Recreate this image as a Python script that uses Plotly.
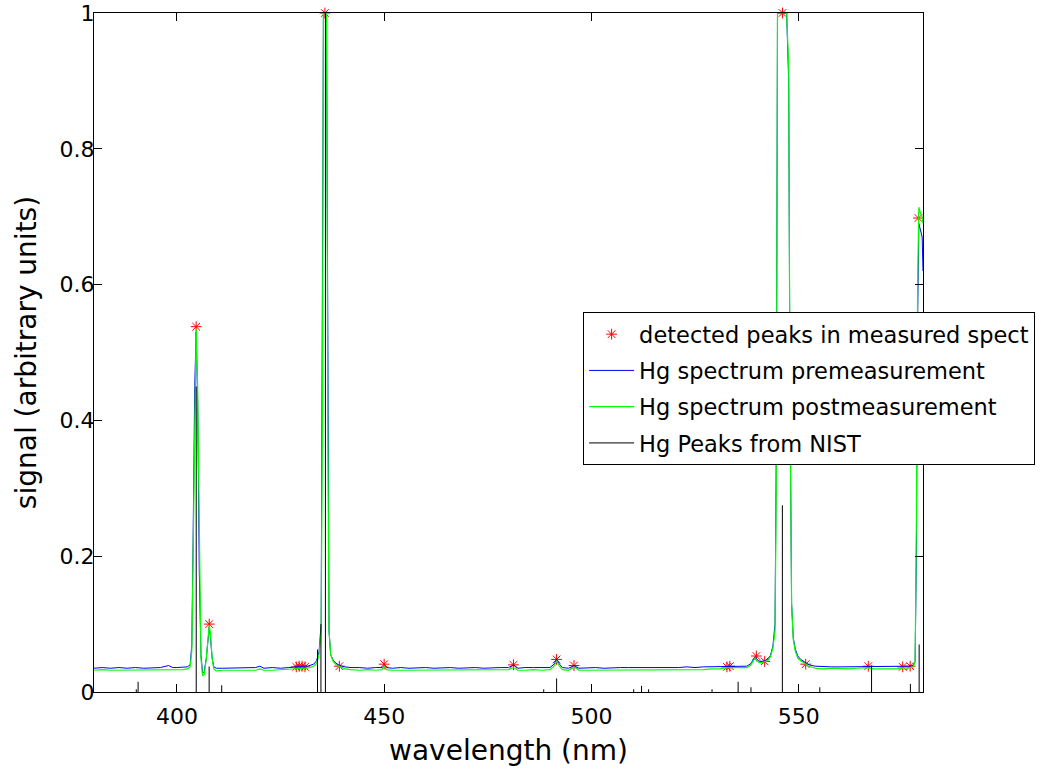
import plotly.graph_objects as go

# ---------------- data ----------------
wavelength = [
    380, 382, 384, 386, 388, 390, 392, 394, 396, 398, 399, 400, 401.5, 402.5,
    403.2, 403.6, 403.9, 404.3, 404.65, 405.0, 405.4, 405.8, 406.2, 406.6,
    407.1, 407.5, 407.8, 408.1, 408.5, 408.9, 409.5, 411, 413, 415, 417, 419,
    420, 421, 423, 425, 427, 428.5, 429.5, 430.5, 431.5, 432.3, 433.0, 433.7,
    434.3, 434.8, 435.1, 435.35, 436.1, 436.4, 436.7, 437.1, 437.7, 438.4,
    439.3, 440.5, 442, 444, 446, 448, 449.5, 450, 450.5, 452, 454, 456, 458,
    460, 462, 464, 466, 468, 470, 472, 474, 476, 478, 480, 481.2, 482.3, 484,
    486, 488, 490, 491, 491.6, 492.3, 493, 494.5, 495.8, 497, 499, 501, 503,
    505, 507, 509, 511, 513, 515, 517, 519, 521, 523, 525, 527, 529, 531,
    532.5, 533.3, 534.5, 536, 537.5, 538.5, 539.5, 540.3, 541, 541.8, 542.5,
    543.2, 543.8, 544.3, 544.6, 544.9, 547.1, 547.6, 547.9, 548.3, 548.7,
    549.2, 549.8, 550.5, 551.5, 552.5, 554, 556, 558, 560, 562, 564, 566.6,
    568, 570, 572, 574, 575, 576, 576.8, 577.6, 578.1, 578.4, 578.7, 579.0,
    579.4, 579.8, 580.0,
]

signal_pre = [
    0.035, 0.036, 0.035, 0.036, 0.035, 0.036, 0.035, 0.036, 0.036, 0.039, 0.036, 0.036, 0.036, 0.037,
    0.040, 0.070, 0.220, 0.450, 0.530, 0.430, 0.180, 0.055, 0.028, 0.030,
    0.050, 0.080, 0.095, 0.080, 0.050, 0.037, 0.035, 0.035, 0.035, 0.036, 0.035, 0.036,
    0.038, 0.035, 0.036, 0.035, 0.036, 0.037, 0.038, 0.038, 0.038, 0.039, 0.041, 0.046,
    0.060, 0.100, 0.500, 1.000, 1.000, 0.350, 0.090, 0.055, 0.047, 0.042,
    0.039, 0.037, 0.036, 0.036, 0.035, 0.036, 0.036, 0.039, 0.036, 0.035, 0.036, 0.035, 0.036,
    0.036, 0.035, 0.036, 0.036, 0.035, 0.036, 0.036, 0.035, 0.036, 0.036, 0.036, 0.040, 0.035, 0.036,
    0.036, 0.036, 0.036, 0.041, 0.048, 0.041, 0.036, 0.035, 0.039, 0.035, 0.036, 0.036, 0.035,
    0.036, 0.036, 0.036, 0.036, 0.035, 0.036, 0.036, 0.036, 0.036, 0.037, 0.036, 0.037, 0.037, 0.037,
    0.038, 0.038, 0.037, 0.037, 0.038, 0.042, 0.052, 0.046, 0.045, 0.046, 0.048,
    0.054, 0.068, 0.100, 0.350, 1.000, 1.000, 0.900, 0.450, 0.130, 0.080,
    0.063, 0.053, 0.048, 0.044, 0.040, 0.038, 0.037, 0.037, 0.037, 0.037, 0.037, 0.038,
    0.037, 0.037, 0.037, 0.037, 0.038, 0.037, 0.038, 0.039, 0.045, 0.200, 0.550, 0.690,
    0.680, 0.670, 0.620,
]

signal_post = [
    0.032, 0.033, 0.032, 0.032, 0.033, 0.032, 0.032, 0.033, 0.032, 0.033, 0.033, 0.033, 0.033, 0.034,
    0.037, 0.060, 0.200, 0.450, 0.535, 0.450, 0.200, 0.050, 0.024, 0.026,
    0.050, 0.085, 0.099, 0.085, 0.050, 0.034, 0.031, 0.032, 0.032, 0.031, 0.032, 0.032,
    0.034, 0.032, 0.032, 0.033, 0.033, 0.034, 0.035, 0.035, 0.035, 0.036, 0.038, 0.042,
    0.055, 0.090, 0.400, 1.000, 1.000, 0.400, 0.090, 0.055, 0.045, 0.040,
    0.037, 0.034, 0.033, 0.032, 0.033, 0.032, 0.033, 0.038, 0.033, 0.032, 0.032, 0.032, 0.033,
    0.032, 0.032, 0.033, 0.032, 0.032, 0.033, 0.032, 0.033, 0.032, 0.032, 0.033, 0.036, 0.032, 0.032,
    0.033, 0.032, 0.033, 0.038, 0.046, 0.038, 0.033, 0.032, 0.037, 0.032, 0.032, 0.033, 0.032,
    0.032, 0.033, 0.032, 0.033, 0.032, 0.032, 0.033, 0.032, 0.033, 0.033, 0.033, 0.033, 0.034, 0.034,
    0.036, 0.036, 0.035, 0.035, 0.036, 0.040, 0.050, 0.044, 0.043, 0.045, 0.046,
    0.052, 0.065, 0.090, 0.300, 1.000, 1.000, 0.920, 0.450, 0.130, 0.077,
    0.060, 0.050, 0.046, 0.042, 0.038, 0.035, 0.034, 0.035, 0.034, 0.034, 0.035, 0.036,
    0.034, 0.034, 0.035, 0.034, 0.036, 0.035, 0.036, 0.037, 0.045, 0.250, 0.600, 0.714,
    0.705, 0.700, 0.690,
]

peak_wl = [404.65, 407.8, 428.8, 429.5, 430.2, 430.9, 435.7, 439.2, 450.0, 481.2,
           491.6, 495.8, 532.7, 533.4, 539.8, 541.8, 546.1, 551.7, 566.8, 575.1,
           576.9, 578.9]
peak_sig = [0.538, 0.100, 0.037, 0.038, 0.038, 0.037, 1.000, 0.038, 0.041, 0.040,
            0.048, 0.039, 0.037, 0.038, 0.053, 0.045, 1.000, 0.041, 0.038, 0.037,
            0.038, 0.698]

nist_wl = [390.2, 390.64, 404.66, 407.78, 410.81, 433.92, 434.75, 435.83, 488.5,
           491.61, 510.2, 512.1, 513.8, 529.1, 535.4, 538.5, 546.07, 555.1,
           567.59, 576.96, 579.07]
nist_rel = [0.004, 0.015, 0.45, 0.0375, 0.010, 0.0625, 0.10, 1.0, 0.004,
            0.020, 0.004, 0.009, 0.004, 0.004, 0.015, 0.007, 0.275, 0.007,
            0.039, 0.012, 0.070]

x_ticks = [400, 450, 500, 550]
y_ticks = [0, 0.2, 0.4, 0.6, 0.8, 1]
y_tick_text = ["0", "0.2", "0.4", "0.6", "0.8", "1"]

# NIST stick lines built from the data arrays
nist_x, nist_y = [], []
for w, h in zip(nist_wl, nist_rel):
    nist_x += [w, w, None]
    nist_y += [0, h, None]

FONT = "DejaVu Sans"

fig = go.Figure()
fig.add_trace(go.Scatter(
    x=peak_wl, y=peak_sig, mode="markers", name="detected peaks in measured spect",
    marker=dict(symbol="asterisk-open", size=9, color="#ff0000",
                line=dict(color="#ff0000", width=1)),
    cliponaxis=False, legendgroup="a"))
fig.add_trace(go.Scatter(
    x=wavelength, y=signal_pre, mode="lines", name="Hg spectrum premeasurement",
    line=dict(color="#0000ff", width=1), legendgroup="b"))
fig.add_trace(go.Scatter(
    x=wavelength, y=signal_post, mode="lines", name="Hg spectrum postmeasurement",
    line=dict(color="#00ff00", width=1.2), legendgroup="c"))
fig.add_trace(go.Scatter(
    x=nist_x, y=nist_y, mode="lines", name="Hg Peaks from NIST",
    line=dict(color="#000000", width=1), legendgroup="d"))

axis_common = dict(
    showline=True, linecolor="black", linewidth=1, mirror="ticks",
    ticks="inside", ticklen=8, tickwidth=1, tickcolor="black",
    showgrid=False, zeroline=False,
    tickfont=dict(family=FONT, size=22, color="black"),
)

fig.update_layout(
    width=1049, height=775,
    margin=dict(l=94, r=126, t=13, b=83, autoexpand=False),
    paper_bgcolor="white", plot_bgcolor="white",
    font=dict(family=FONT, color="black"),
    xaxis=dict(range=[380, 580], tickvals=x_ticks, ticklabelstandoff=5,
               title=dict(text="wavelength (nm)", font=dict(family=FONT, size=28), standoff=11),
               **axis_common),
    yaxis=dict(range=[0, 1], tickvals=y_ticks, ticktext=y_tick_text, ticklabelstandoff=-6,
               title=dict(text="signal (arbitrary units)", font=dict(family=FONT, size=28), standoff=14),
               **axis_common),
    legend=dict(x=0.59, y=0.5596, xanchor="left", yanchor="top",
                bgcolor="white", bordercolor="black", borderwidth=1,
                font=dict(family=FONT, size=22.5, color="black"),
                itemwidth=45, traceorder="grouped", tracegroupgap=4),
    showlegend=True,
)

fig.write_html("out.html")
